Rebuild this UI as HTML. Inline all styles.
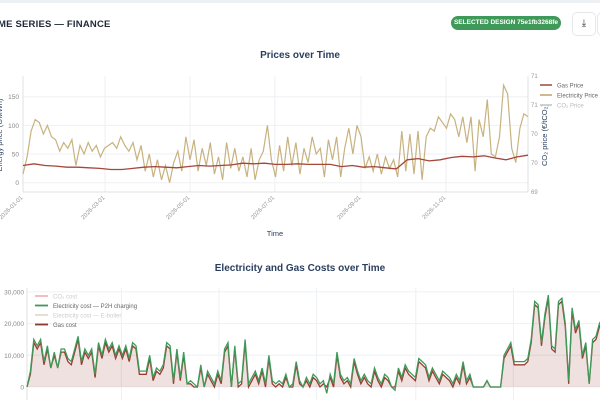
<!DOCTYPE html>
<html><head><meta charset="utf-8"><style>
body{margin:0;width:600px;height:400px;overflow:hidden;background:#fff;font-family:"Liberation Sans",sans-serif;position:relative}
.hdr{position:absolute;left:-2px;top:19px;font-size:9.5px;font-weight:bold;color:#1f2937;letter-spacing:.2px}
.badge{position:absolute;left:451px;top:16px;width:110px;height:14px;border-radius:8px;background:#3f9a5a;color:#fff;font-size:6.5px;font-weight:bold;line-height:14px;text-align:center}
.dl{position:absolute;left:572px;top:12px;width:22px;height:22px;border:1px solid #e5e7eb;border-radius:5px;font-size:10px;text-align:center;line-height:22px;color:#333}
.dl2{position:absolute;left:597px;top:12px;width:10px;height:22px;border:1px solid #e5e7eb;border-radius:5px}
.topline{position:absolute;left:0;top:0;width:600px;height:3px;background:#eef1f3}
svg{position:absolute;left:0;top:0}
</style></head><body>
<div class="topline"></div>
<div class="hdr">ME SERIES — FINANCE</div>
<div class="badge">SELECTED DESIGN 75e1fb3268fe</div>
<div class="dl">⤓</div>
<div class="dl2"></div>
<svg id="c" width="600" height="400"></svg>
<script>
const elecPrice=[15,45,90,110,105,85,100,80,75,55,70,60,75,30,65,50,70,55,65,45,60,65,70,60,80,65,55,70,40,65,20,50,10,40,5,30,0,35,55,20,80,40,75,20,60,30,70,15,45,5,70,25,60,20,45,10,60,5,40,55,100,40,10,65,20,80,30,70,15,60,35,80,50,60,10,75,40,80,10,60,95,50,100,80,25,45,20,50,15,45,25,40,10,90,20,85,15,90,5,80,95,90,115,105,95,120,110,80,115,70,115,20,110,80,145,50,45,80,170,155,60,35,95,120,115];
const gasPrice=[30,33,30,29,27,27,26,25,23,23,25,27,28,27,26,28,30,29,30,31,34,33,34,32,32,33,32,32,32,28,30,27,28,26,24,40,42,38,40,44,46,45,47,43,40,45,48];
const leftTicks=[0,50,100,150];
const rightTicks=["69","70","70","71","71"];
const dateTicks=["2026-01-01","2026-03-01","2026-05-01","2026-07-01","2026-09-01","2026-11-01"];
const tickDays=[0,59,120,181,243,304];
const elecCost=[0,5,15,13,15,8,13,6,11,6,12,12,9,8,12,16,8,12,10,12,4,14,10,15,12,14,10,13,10,13,9,14,13,5,5,5,10,3,6,5,7,14,13,2,12,3,11,1,2,1,0,7,0,5,3,1,5,2,12,14,0,13,1,2,15,1,3,5,2,6,1,10,2,1,2,1,4,0,1,8,2,0,3,1,4,3,1,2,-2,4,1,11,4,2,3,1,9,5,2,4,2,1,6,3,1,4,3,0,-1,6,3,7,5,4,3,9,8,7,3,6,4,2,5,4,3,1,4,2,8,2,4,0,0,0,0,2,0,0,0,0,10,12,14,8,8,8,8,9,15,27,26,14,23,29,13,12,27,28,20,2,25,18,21,10,14,1,15,16,20,22,23];
const gasCost=[0,4,14,12,14,7,12,6,10,6,11,11,8,7,11,15,7,11,9,11,3,13,9,14,11,13,9,12,9,12,8,13,12,4,4,4,9,2,5,4,6,13,12,1,11,2,10,1,1,0,0,6,0,4,2,0,4,1,11,13,0,12,0,1,14,0,2,4,1,5,0,9,1,0,1,0,3,0,0,7,1,0,2,0,3,2,0,1,0,3,0,10,3,1,2,0,8,4,1,3,1,0,5,2,0,3,2,0,0,5,2,6,4,3,2,8,7,6,2,5,3,1,4,3,2,0,3,1,7,1,3,0,0,0,0,2,0,0,0,0,9,11,13,7,7,7,7,8,14,26,25,13,22,28,12,11,26,27,19,1,24,17,20,9,13,1,14,15,19,21,22];
const costTicks=[0,10000,20000,30000];

const NS="http://www.w3.org/2000/svg";
const svg=document.getElementById('c');
function mk(t,a,p){const e=document.createElementNS(NS,t);for(const k in a)e.setAttribute(k,a[k]);(p||svg).appendChild(e);return e;}
function txt(x,y,s,a){const e=mk('text',Object.assign({x:x,y:y,'font-family':'Liberation Sans, sans-serif'},a));e.textContent=s;return e;}

// ---- chart 1
const X1=d=>23+d*(505/363), Y1=v=>182.7-v*(86/150);
const t1=txt(300,58,'Prices over Time',{'font-size':10,'font-weight':'bold','text-anchor':'middle',fill:'#2a3f5f'});

leftTicks.forEach(v=>{const g=mk('line',{x1:23,x2:528,y1:Y1(v),y2:Y1(v),stroke:'#edf0f4','stroke-width':1});
 
 const l=txt(19,Y1(v)+2.5,String(v),{'font-size':6.5,fill:'#888','text-anchor':'end'});
 });
tickDays.forEach((d,i)=>{const g=mk('line',{x1:X1(d),x2:X1(d),y1:76,y2:192,stroke:'#edf0f4'});
 
 const l=txt(X1(d),198,dateTicks[i],{'font-size':6,fill:'#999','text-anchor':'end',transform:`rotate(-45 ${X1(d)} 198)`});
 });
mk('line',{x1:23,x2:23,y1:76,y2:192,stroke:'#dde1e6'});
mk('line',{x1:23,x2:528,y1:192,y2:192,stroke:'#dde1e6'});
mk('line',{x1:528,x2:528,y1:76,y2:192,stroke:'#dde1e6'});
rightTicks.forEach((s,i)=>{const l=txt(531,192-i*29+2,s,{'font-size':6,fill:'#999'});
 });
const yl=txt(2,135,'Energy price (€/MWh)',{'font-size':7.5,fill:'#2a3f5f','text-anchor':'middle',transform:'rotate(-90 2 135)'});

const yr=txt(547,135,'CO₂ price (€/tCO₂)',{'font-size':7.5,fill:'#2a3f5f','text-anchor':'middle',transform:'rotate(-90 547 135)'});

const xt=txt(275,236,'Time',{'font-size':7.5,fill:'#2a3f5f','text-anchor':'middle'});

function series(arr,X,Y,maxd){return arr.map((v,i)=>X(i*maxd/(arr.length-1)).toFixed(1)+','+Y(v).toFixed(1)).join(' ');}
const ep=mk('polyline',{points:series(elecPrice,X1,Y1,363),fill:'none',stroke:'#c8b27f','stroke-width':1.2});

const gp=mk('polyline',{points:series(gasPrice,X1,Y1,363),fill:'none',stroke:'#a4463c','stroke-width':1.3});

[['Gas Price','#b0645a','#666'],['Electricity Price','#c8b27f','#666'],['CO₂ Price','#ccc','#bbb']].forEach((e,i)=>{
 const y=85+i*10;const ln=mk('line',{x1:540,x2:552,y1:y,y2:y,stroke:e[1],'stroke-width':1.8});
 
 const t=txt(557,y+2.3,e[0],{'font-size':6,fill:e[2]});
 });

// ---- chart 2
const X2=d=>27+d*1.6, Y2=v=>387-v*(31.7/10000);
const t2=txt(300,271,'Electricity and Gas Costs over Time',{'font-size':10,'font-weight':'bold','text-anchor':'middle',fill:'#2a3f5f'});

costTicks.forEach(v=>{const g=mk('line',{x1:27,x2:600,y1:Y2(v),y2:Y2(v),stroke:'#edf0f4'});
 
 const l=txt(24,Y2(v)+2.5,v.toLocaleString('en-US'),{'font-size':6.5,fill:'#888','text-anchor':'end'});
 });
tickDays.forEach(d=>{const g=mk('line',{x1:X2(d),x2:X2(d),y1:288,y2:400,stroke:'#edf0f4'});
 });
mk('line',{x1:27,x2:27,y1:288,y2:400,stroke:'#dde1e6'});
const gpts=series(gasCost.map(v=>v*1000),X2,Y2,362);
const area=mk('polygon',{points:X2(0)+','+Y2(0)+' '+gpts+' '+X2(362)+','+Y2(0),fill:'rgba(160,90,80,0.18)'});

const gl=mk('polyline',{points:gpts,fill:'none',stroke:'#9c3b30','stroke-width':1.3});

const el=mk('polyline',{points:series(elecCost.map(v=>v*1000),X2,Y2,362),fill:'none',stroke:'#3f9a5a','stroke-width':1.3});

[['CO₂ cost','#f4b6b6','#ccc'],['Electricity cost — P2H charging','#3f9a5a','#666'],['Electricity cost — E-boiler','#e2dccb','#ccc'],['Gas cost','#8a3a30','#666']].forEach((e,i)=>{
 const y=296+i*9.5;const ln=mk('line',{x1:35,x2:48,y1:y,y2:y,stroke:e[1],'stroke-width':1.8});
 
 const t=txt(53,y+2.3,e[0],{'font-size':6,fill:e[2]});
 });
</script>
</body></html>
